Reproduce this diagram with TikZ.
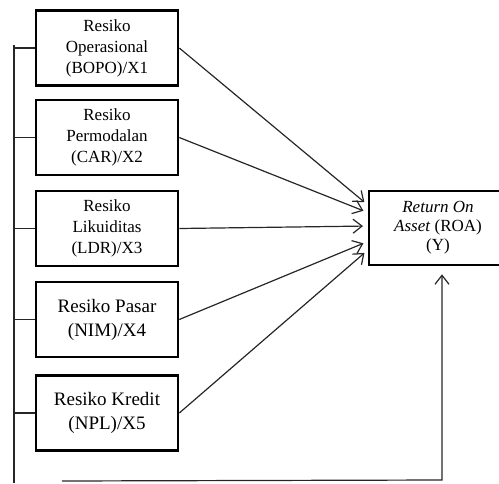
\documentclass[tikz,border=0pt]{standalone}
\usepackage{fontspec}
\setmainfont{Liberation Serif}
\usetikzlibrary{arrows.meta}
\tikzset{
  varbox/.style={draw, line width=2.6pt, minimum width=142pt, minimum height=75pt,
    align=center, inner sep=0pt},
  smalltext/.style={font=\fontsize{17}{21}\selectfont},
  bigtext/.style={font=\fontsize{19}{24}\selectfont},
  roatext/.style={font=\fontsize{17}{19}\selectfont},
  link/.style={draw=black!85, line width=1.2pt},
  arrowlink/.style={link, -{Straight Barb[length=9pt,width=14pt]}, shorten >=6pt}
}
\begin{document}
\begin{tikzpicture}[x=1pt,y=-1pt]
  \useasboundingbox (0,0) rectangle (499,483);
  \clip (0,0) rectangle (499,483);

  % independent variables
  \node[varbox,smalltext] (x1) at (107,48)    {Resiko\\Operasional\\(BOPO)/X1};
  \node[varbox,smalltext] (x2) at (107,137.5) {Resiko\\Permodalan\\(CAR)/X2};
  \node[varbox,smalltext] (x3) at (107,228.5) {Resiko\\Likuiditas\\(LDR)/X3};
  \node[varbox,bigtext]   (x4) at (107,319.5) {Resiko Pasar\\(NIM)/X4};
  \node[varbox,bigtext]   (x5) at (107,413)   {Resiko Kredit\\(NPL)/X5};

  % dependent variable, running past the right margin
  \node[varbox,roatext,minimum width=138pt,minimum height=74pt] (y) at (438,228)
    {\textit{Return On}\\\textit{Asset} (ROA)\\(Y)};

  % arrow targets on the left side of the ROA box
  \coordinate (t1) at (369,206);
  \coordinate (t2) at (369,213);
  \coordinate (t3) at (369,226);
  \coordinate (t4) at (369,241);
  \coordinate (t5) at (369,249);

  \draw[arrowlink] (x1.east) -- (t1);
  \draw[arrowlink] (x2.east) -- (t2);
  \draw[arrowlink] (x3.east) -- (t3);
  \draw[arrowlink] (x4.east) -- (t4);
  \draw[arrowlink] (x5.east) -- (t5);

  % simultaneous-effect bus on the left
  \coordinate (bt) at (14,45);
  \coordinate (bb) at (14,483);
  \draw[link] (bt) -- (bb);
  \draw[link] (x1.west) -- (x1.west -| bt);
  \draw[link] (x2.west) -- (x2.west -| bt);
  \draw[link] (x3.west) -- (x3.west -| bt);
  \draw[link] (x4.west) -- (x4.west -| bt);
  \draw[link] (x5.west) -- (x5.west -| bt);

  % bottom line into the ROA box
  \coordinate (bs) at (62,481);
  \coordinate (bc) at (442,480);
  \draw[arrowlink, shorten >=8pt] (bs) -- (bc) -- (bc |- y.south);
\end{tikzpicture}
\end{document}
